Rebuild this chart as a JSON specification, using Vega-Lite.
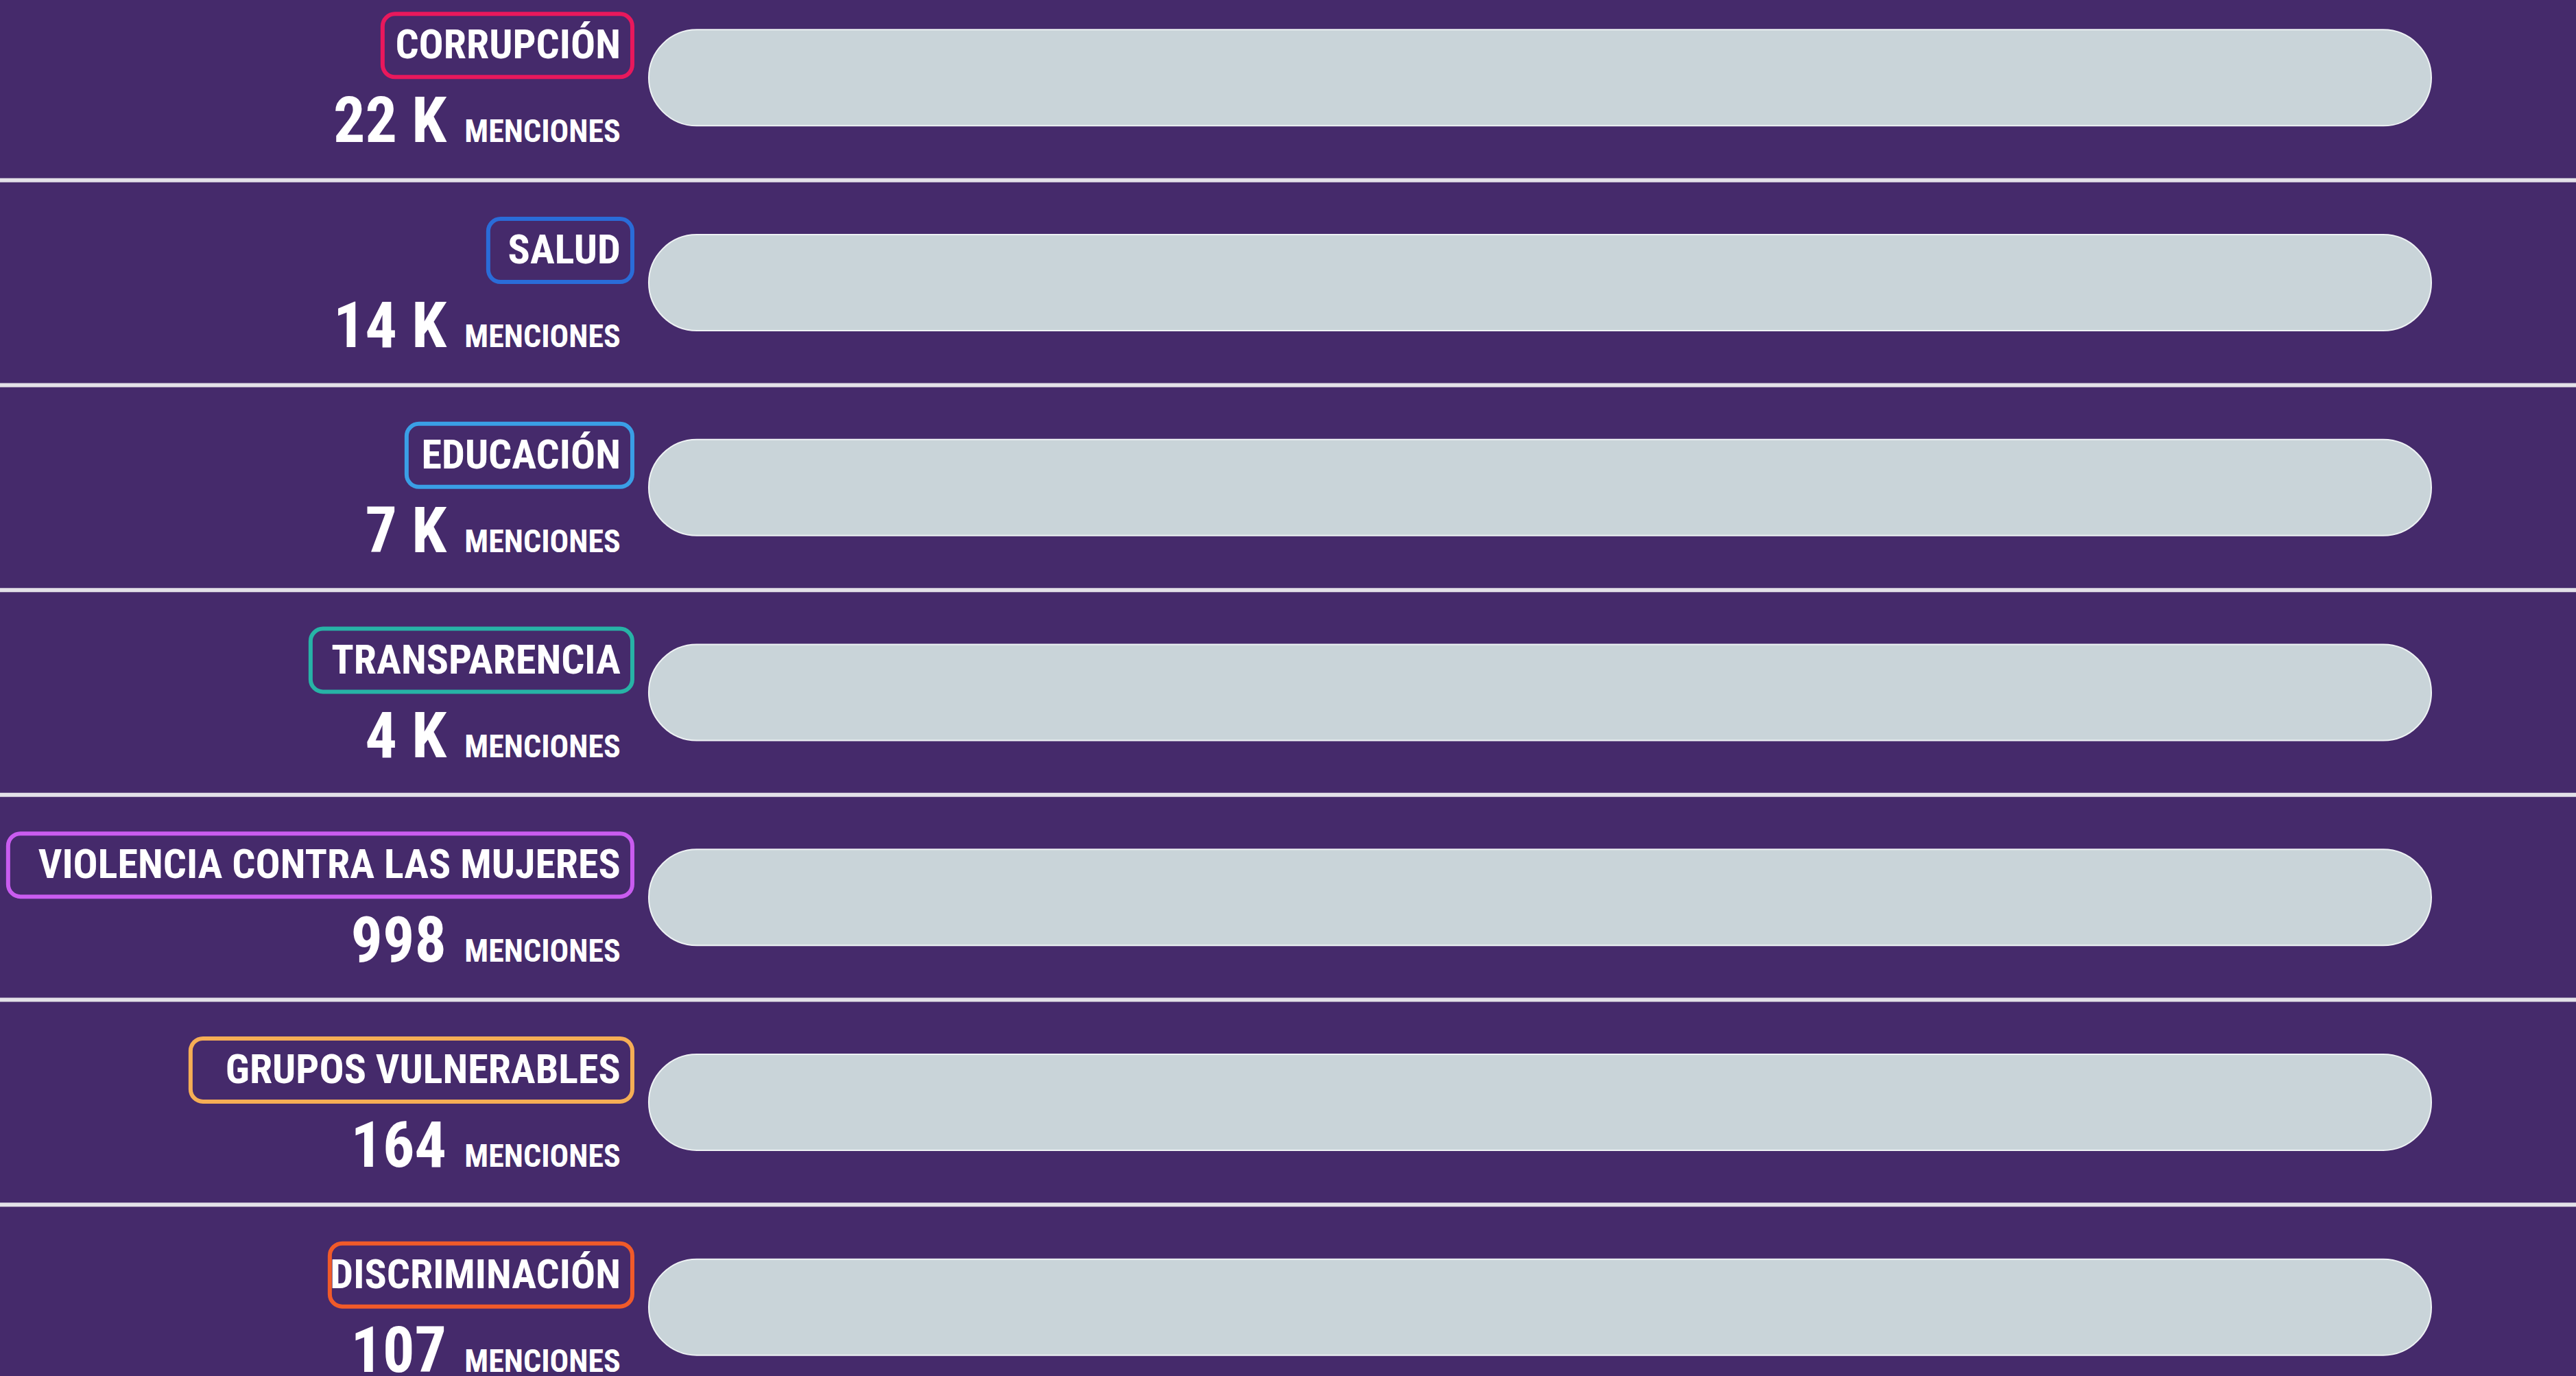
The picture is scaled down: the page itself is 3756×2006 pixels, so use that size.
{
  "$schema": "https://vega.github.io/schema/vega-lite/v6.json",
  "width": 3756,
  "height": 2006,
  "autosize": {"type": "none"},
  "padding": 0,
  "background": "#452a6b",
  "config": {"view": {"stroke": null}},
  "data": {
    "values": [
      {"cat": "CORRUPCIÓN", "n": "22 K", "seg": "neg", "ord": 1, "pct": 89, "label": "89%"},
      {"cat": "CORRUPCIÓN", "n": "22 K", "seg": "neu", "ord": 2, "pct": 11, "label": "11%"},
      {"cat": "CORRUPCIÓN", "n": "22 K", "seg": "pos", "ord": 3, "pct": 0, "label": "0%"},
      {"cat": "SALUD", "n": "14 K", "seg": "neg", "ord": 1, "pct": 42, "label": "42%"},
      {"cat": "SALUD", "n": "14 K", "seg": "neu", "ord": 2, "pct": 21, "label": "21%"},
      {"cat": "SALUD", "n": "14 K", "seg": "pos", "ord": 3, "pct": 37, "label": "37%"},
      {"cat": "EDUCACIÓN", "n": "7 K", "seg": "neg", "ord": 1, "pct": 22, "label": "22%"},
      {"cat": "EDUCACIÓN", "n": "7 K", "seg": "neu", "ord": 2, "pct": 27, "label": "27%"},
      {"cat": "EDUCACIÓN", "n": "7 K", "seg": "pos", "ord": 3, "pct": 51, "label": "51%"},
      {"cat": "TRANSPARENCIA", "n": "4 K", "seg": "neg", "ord": 1, "pct": 21, "label": "21%"},
      {"cat": "TRANSPARENCIA", "n": "4 K", "seg": "neu", "ord": 2, "pct": 21, "label": "21%"},
      {"cat": "TRANSPARENCIA", "n": "4 K", "seg": "pos", "ord": 3, "pct": 58, "label": "58%"},
      {"cat": "VIOLENCIA CONTRA LAS MUJERES", "n": "998", "seg": "neg", "ord": 1, "pct": 15, "label": "15%"},
      {"cat": "VIOLENCIA CONTRA LAS MUJERES", "n": "998", "seg": "neu", "ord": 2, "pct": 13, "label": "13%"},
      {"cat": "VIOLENCIA CONTRA LAS MUJERES", "n": "998", "seg": "pos", "ord": 3, "pct": 72, "label": "72%"},
      {"cat": "GRUPOS VULNERABLES", "n": "164", "seg": "neg", "ord": 1, "pct": 31, "label": "31%"},
      {"cat": "GRUPOS VULNERABLES", "n": "164", "seg": "neu", "ord": 2, "pct": 42, "label": "42%"},
      {"cat": "GRUPOS VULNERABLES", "n": "164", "seg": "pos", "ord": 3, "pct": 27, "label": "27%"},
      {"cat": "DISCRIMINACIÓN", "n": "107", "seg": "neg", "ord": 1, "pct": 46, "label": "46%"},
      {"cat": "DISCRIMINACIÓN", "n": "107", "seg": "neu", "ord": 2, "pct": 33, "label": "33%"},
      {"cat": "DISCRIMINACIÓN", "n": "107", "seg": "pos", "ord": 3, "pct": 21, "label": "21%"}
    ]
  },
  "layer": [
    {
      "transform": [{"filter": "datum.ord == 1"}],
      "mark": {"type": "rule", "color": "#e3e1e8", "strokeWidth": 6},
      "encoding": {
        "y": {"field": "cat", "type": "nominal", "bandPosition": 1, "axis": null,
              "scale": {"type": "band", "domain": ["CORRUPCIÓN", "SALUD", "EDUCACIÓN", "TRANSPARENCIA", "VIOLENCIA CONTRA LAS MUJERES", "GRUPOS VULNERABLES", "DISCRIMINACIÓN"], "range": [-36, 2055], "paddingInner": 0, "paddingOuter": 0}}
      }
    },
    {
      "transform": [
        {"filter": "datum.ord == 1"},
        {"calculate": "-2.55 - (35*length(replace(datum.cat, regexp('[I ]','g'), '')) + 14*length(replace(datum.cat, regexp('[^I ]','g'), '')) + 18)/25.51", "as": "boxL"}
      ],
      "mark": {"type": "bar", "height": 92, "cornerRadius": 18, "fillOpacity": 0, "strokeWidth": 6, "yOffset": -47},
      "encoding": {
        "x": {"field": "boxL", "type": "quantitative", "axis": null, "scale": {"domain": [-38.02, 109.21], "nice": false, "zero": false}},
        "x2": {"datum": -1.88},
        "y": {"field": "cat", "type": "nominal", "axis": null},
        "stroke": {"field": "cat", "type": "nominal", "legend": null,
                   "scale": {"domain": ["CORRUPCIÓN", "SALUD", "EDUCACIÓN", "TRANSPARENCIA", "VIOLENCIA CONTRA LAS MUJERES", "GRUPOS VULNERABLES", "DISCRIMINACIÓN"],
                             "range": ["#e8185c", "#2a6cd8", "#3a9fe6", "#27b3a6", "#c95cf0", "#f6ae55", "#f15a29"]}}
      }
    },
    {
      "transform": [{"filter": "datum.ord == 1"}],
      "mark": {"type": "text", "align": "right", "baseline": "middle", "dy": -46, "font": "Liberation Sans Narrow, Roboto Condensed, DejaVu Sans Condensed, sans-serif", "fontSize": 60, "fontWeight": "bold", "color": "#ffffff"},
      "encoding": {
        "x": {"datum": -2.55, "type": "quantitative"},
        "y": {"field": "cat", "type": "nominal", "axis": null},
        "text": {"field": "cat"}
      }
    },
    {
      "transform": [{"filter": "datum.ord == 1"}],
      "mark": {"type": "text", "align": "right", "baseline": "alphabetic", "dy": 94, "font": "Liberation Sans Narrow, Roboto Condensed, DejaVu Sans Condensed, sans-serif", "fontSize": 92, "fontWeight": "bold", "color": "#ffffff"},
      "encoding": {
        "x": {"datum": -12.5, "type": "quantitative"},
        "y": {"field": "cat", "type": "nominal", "axis": null},
        "text": {"field": "n"}
      }
    },
    {
      "transform": [{"filter": "datum.ord == 1"}],
      "mark": {"type": "text", "align": "right", "baseline": "alphabetic", "dy": 94, "font": "Liberation Sans Narrow, Roboto Condensed, DejaVu Sans Condensed, sans-serif", "fontSize": 46, "fontWeight": "bold", "color": "#ffffff"},
      "encoding": {
        "x": {"datum": -2.55, "type": "quantitative"},
        "y": {"field": "cat", "type": "nominal", "axis": null},
        "text": {"value": "MENCIONES"}
      }
    },
    {
      "transform": [{"filter": "datum.ord == 1"}],
      "mark": {"type": "bar", "height": 140, "cornerRadius": 70, "stroke": "#eef2f4", "strokeWidth": 2, "fill": "#c9d4d9"},
      "encoding": {
        "x": {"datum": -0.94, "type": "quantitative"},
        "x2": {"datum": 100.94},
        "y": {"field": "cat", "type": "nominal", "axis": null}
      }
    }
  ]
}
